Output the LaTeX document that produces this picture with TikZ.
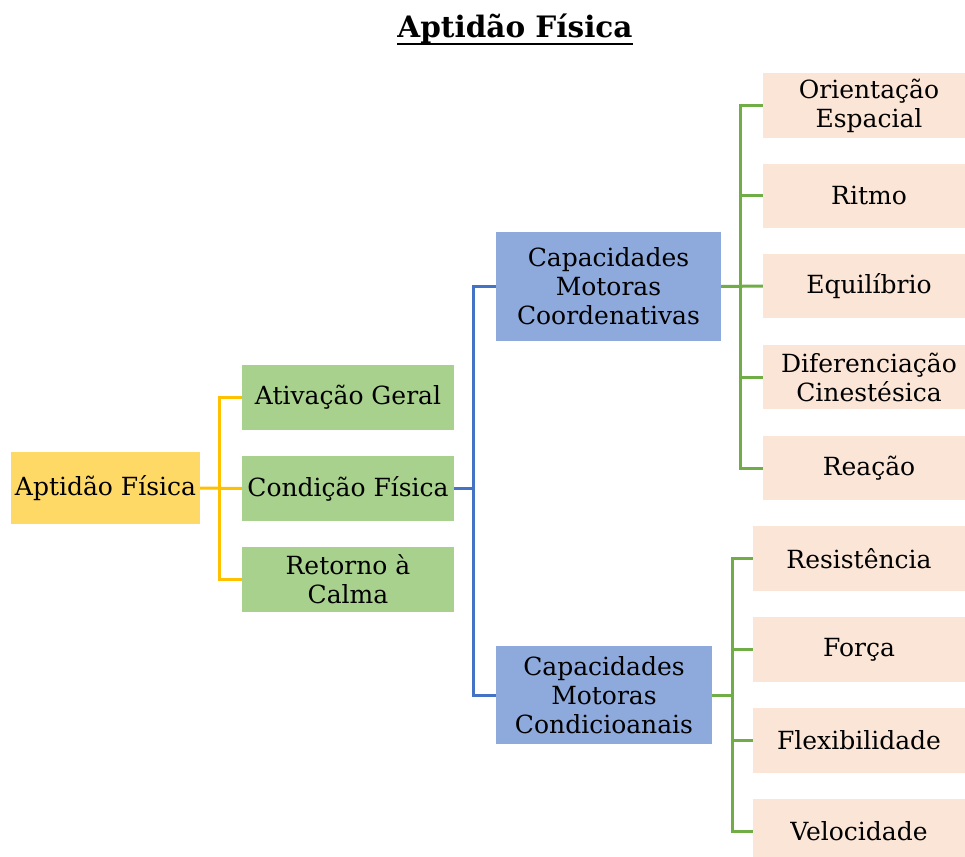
\documentclass[tikz,border=0pt]{standalone}
\usepackage{fontspec}
\setmainfont{DejaVu Serif}
\definecolor{cyel}{HTML}{FFD966}
\definecolor{cgrn}{HTML}{A9D18E}
\definecolor{cblu}{HTML}{8EA9DB}
\definecolor{cpch}{HTML}{FBE5D6}
\definecolor{lyel}{HTML}{FFC000}
\definecolor{lblu}{HTML}{4472C4}
\definecolor{lgrn}{HTML}{70AD47}
\tikzset{
  box/.style={inner sep=0pt, align=center, font=\fontsize{25}{29}\selectfont, text=black},
  conn/.style={line width=3pt},
}
\begin{document}
\begin{tikzpicture}[x=1pt,y=-1pt]
\useasboundingbox (0,0) rectangle (965,856);
\node[inner sep=0pt, font=\fontsize{29.5}{33}\selectfont\bfseries, anchor=base] (title) at (515,38) {Aptidão Física};
\draw[line width=2.5pt] ([yshift=-6pt]title.base west) -- ([yshift=-6pt]title.base east);
% level 0
\node[box, fill=cyel, minimum width=189pt, minimum height=72pt] (apt) at (105.5,488) {Aptidão Física};
% level 1
\node[box, fill=cgrn, minimum width=212pt, minimum height=65pt] (ativ) at (348,397.5) {Ativação Geral};
\node[box, fill=cgrn, minimum width=212pt, minimum height=65pt] (cond) at (348,488.5) {Condição Física};
\node[box, fill=cgrn, minimum width=212pt, minimum height=65pt] (ret) at (348,579.5) {Retorno à\\Calma};
% level 2
\node[box, fill=cblu, minimum width=225pt, minimum height=109pt] (cmc) at (608.5,286.5) {Capacidades\\Motoras\\Coordenativas};
\node[box, fill=cblu, minimum width=216pt, minimum height=98pt] (cmd) at (604,695) {Capacidades\\Motoras\\Condicioanais};
% level 3 top
\node[box, fill=cpch, minimum width=212pt, minimum height=64pt] (ori) at (869,105.5) {Orientação\\Espacial};
\node[box, fill=cpch, minimum width=212pt, minimum height=64pt] (rit) at (869,195.5) {Ritmo};
\node[box, fill=cpch, minimum width=212pt, minimum height=64pt] (equ) at (869,286) {Equilíbrio};
\node[box, fill=cpch, minimum width=212pt, minimum height=64pt] (dif) at (869,377) {Diferenciação\\Cinestésica};
\node[box, fill=cpch, minimum width=212pt, minimum height=64pt] (rea) at (869,468) {Reação};
% level 3 bottom
\node[box, fill=cpch, minimum width=212pt, minimum height=65pt] (res) at (859,558.5) {Resistência};
\node[box, fill=cpch, minimum width=212pt, minimum height=65pt] (for) at (859,649.5) {Força};
\node[box, fill=cpch, minimum width=212pt, minimum height=65pt] (fle) at (859,740) {Flexibilidade};
\node[box, fill=cpch, minimum width=212pt, minimum height=65pt] (vel) at (859,831) {Velocidade};
% yellow connectors
\draw[conn, lyel] (apt.east) -- (cond.west);
\draw[conn, lyel] (ativ.west) -- ++(-22,0) |- (ret.west);
% blue connectors
\draw[conn, lblu] (cond.east) -- ++(20,0);
\draw[conn, lblu] (cmc.west) -- ++(-22,0) |- (cmd.west);
% green top
\draw[conn, lgrn] (cmc.east) -- (equ.west);
\draw[conn, lgrn] (ori.west) -- ++(-22,0) |- (rea.west);
\draw[conn, lgrn] (rit.west) -- ++(-22,0);
\draw[conn, lgrn] (dif.west) -- ++(-22,0);
% green bottom
\draw[conn, lgrn] (cmd.east) -- ++(21,0);
\draw[conn, lgrn] (res.west) -- ++(-20,0) |- (vel.west);
\draw[conn, lgrn] (for.west) -- ++(-20,0);
\draw[conn, lgrn] (fle.west) -- ++(-20,0);
\end{tikzpicture}
\end{document}
